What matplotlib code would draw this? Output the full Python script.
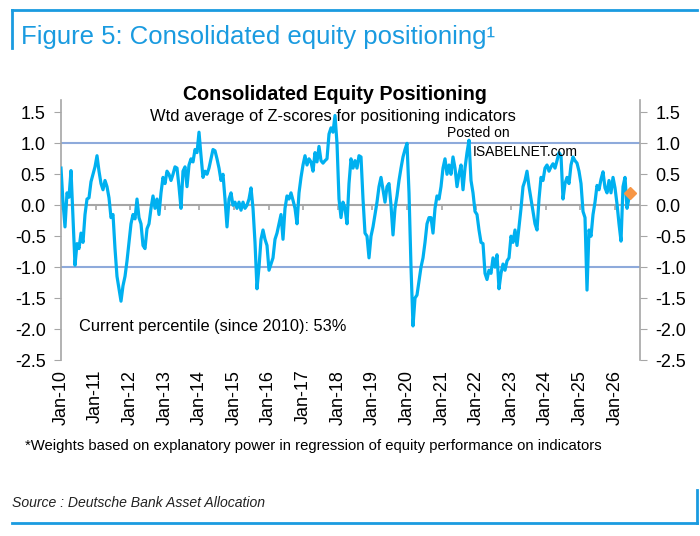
import matplotlib.pyplot as plt
import matplotlib.dates as mdates
from matplotlib.lines import Line2D
import pandas as pd

# consolidated equity positioning (roughly every 3 weeks)
values_2010_12 = [0.6, 0.05, -0.35, 0.2, 0.13, 0.56, -0.2, -0.97, -0.62, -0.7, -0.45, -0.6,
                  -0.15, 0.1, 0.12, 0.38, 0.5, 0.62, 0.8, 0.55, 0.35, 0.25, 0.4, 0.3,
                  0.12, -0.2, -0.15, -0.7, -1.15, -1.35, -1.55, -1.3, -1.15, -0.9, -0.6, -0.3,
                  -0.15, -0.22, 0.1, -0.2, -0.3, -0.65, -0.7, -0.38, -0.3, -0.05, 0.15]
values_2012_15 = [-0.05, 0.1, -0.15, 0.2, 0.45, 0.35, 0.55, 0.5, 0.4, 0.5, 0.62, 0.6,
                  0.3, -0.05, 0.55, 0.62, 0.3, 0.65, 0.75, 0.7, 0.9, 0.85, 1.18, 0.8,
                  0.45, 0.55, 0.5, 0.6, 0.75, 0.9, 0.88, 0.75, 0.6, 0.4, 0.5, 0.1,
                  -0.35, 0.1, 0.2, 0.0, 0.05, -0.05, 0.05, -0.08, 0.05, -0.05, 0.0]
values_2015_18 = [0.1, 0.28, -0.05, -0.6, -1.35, -1.0, -0.55, -0.4, -0.55, -0.65, -1.05, -0.95,
                  -0.85, -0.55, -0.45, -0.3, -0.15, -0.55, -0.05, 0.15, 0.1, 0.2, 0.08, -0.05,
                  -0.3, 0.2, 0.45, 0.65, 0.8, 0.65, 0.75, 0.7, 0.55, 0.85, 0.7, 0.95,
                  0.72, 0.68, 0.72, 0.75, 1.15, 1.25, 1.18, 1.45, 1.0, 0.1, -0.2, 0.05]
values_2018_20 = [-0.05, -0.3, 0.35, 0.75, 0.6, 0.72, 0.6, 0.8, 0.78, 0.1, -0.45, -0.5,
                  -0.85, -0.5, -0.35, -0.15, 0.05, 0.3, 0.45, 0.25, 0.05, 0.3, 0.35, 0.0,
                  -0.48, -0.05, 0.15, 0.4, 0.6, 0.78, 0.9, 1.0, 0.2, -1.0, -1.95, -1.5,
                  -1.45, -1.22, -1.0, -0.85, -0.6, -0.3, -0.2, -0.2, -0.45, -0.05, 0.15]
values_2020_23 = [0.1, 0.3, 0.6, 0.75, 0.5, 0.65, 0.5, 0.78, 0.6, 0.3, 0.5, 0.65,
                  0.25, 0.6, 0.85, 1.05, 0.4, 0.2, -0.1, -0.15, -0.4, -0.6, -0.62, -1.1,
                  -1.2, -1.05, -1.1, -0.85, -1.0, -0.8, -1.35, -1.1, -0.95, -1.05, -0.9, -0.85,
                  -0.5, -0.6, -0.4, -0.65, -0.35, -0.05, 0.3, 0.4, 0.55, 0.3, 0.1, -0.1]
values_2023_26 = [-0.3, -0.4, 0.1, 0.45, 0.4, 0.6, 0.65, 0.55, 0.62, 0.67, 0.6, 0.72,
                  0.85, 0.8, 0.1, 0.35, 0.45, 0.35, 0.65, 0.78, 0.72, 0.68, 0.55, 0.35,
                  -0.1, -0.2, -1.37, -0.4, -0.5, -0.15, 0.05, 0.32, 0.25, 0.42, 0.54, 0.28,
                  0.2, 0.4, 0.2, 0.45, 0.28, 0.02, -0.3, -0.58, 0.3, 0.45, -0.05, 0.12]

values = (values_2010_12 + values_2012_15 + values_2015_18
          + values_2018_20 + values_2020_23 + values_2023_26)
dates = pd.date_range("2010-01-01", "2026-05-31", periods=len(values))

current_date = pd.Timestamp("2026-06-10")
current_value = 0.2

yticks = [1.5, 1.0, 0.5, 0.0, -0.5, -1.0, -1.5, -2.0, -2.5]
years = pd.date_range("2010-01-01", "2026-01-01", freq="YS")

plt.rcParams["font.family"] = ["Liberation Sans", "DejaVu Sans"]

fig = plt.figure(figsize=(7, 5.36), dpi=100)
ax = fig.add_axes([61 / 700, 1 - 360 / 536, 579 / 700, 260 / 536])

ax.axhline(1.0, color="#8eaadb", lw=1.5, zorder=1)
ax.axhline(-1.0, color="#8eaadb", lw=1.5, zorder=1)
ax.axhline(0.0, color="#a6a6a6", lw=1.5, zorder=1)
ax.vlines(years, -0.07, 0, color="#a6a6a6", lw=1.2, zorder=1)

ax.plot(dates, values, color="#00b0f0", lw=2.3, zorder=3)
ax.plot([current_date], [current_value], marker="D", ms=6, color="#f79646", ls="none", zorder=4)

ax.set_xlim(pd.Timestamp("2010-01-01"), pd.Timestamp("2026-09-24"))
ax.set_ylim(-2.5, 1.7)

ax.set_yticks(yticks)
ax.set_yticklabels([f"{v:.1f}" for v in yticks])
ax.tick_params(axis="y", which="both", left=True, right=True, labelleft=True, labelright=True,
               direction="out", length=5, color="#a6a6a6", labelsize=13, pad=6)

ax.set_xticks(years)
ax.xaxis.set_major_formatter(mdates.DateFormatter("%b-%y"))
ax.tick_params(axis="x", length=0, labelsize=13, pad=7, labelrotation=90)

for side in ["top", "bottom"]:
    ax.spines[side].set_visible(False)
for side in ["left", "right"]:
    ax.spines[side].set_color("#a6a6a6")
    ax.spines[side].set_linewidth(1.2)

fig.text(335 / 700, 1 - 95 / 536, "Consolidated Equity Positioning", ha="center", va="center",
         fontsize=14.2, fontweight="bold")
fig.text(333 / 700, 1 - 116 / 536, "Wtd average of Z-scores for positioning indicators",
         ha="center", va="center", fontsize=11.9)
fig.text(79 / 700, 1 - 326 / 536, "Current percentile (since 2010): 53%", ha="left", va="center",
         fontsize=11.8)
fig.text(478 / 700, 1 - 133 / 536, "Posted on", ha="center", va="center", fontsize=10)
fig.text(473 / 700, 1 - 152 / 536, "ISABELNET.com", ha="left", va="center", fontsize=10)

fig.text(25 / 700, 1 - 446 / 536,
         "*Weights based on explanatory power in regression of equity performance on indicators",
         ha="left", va="center", fontsize=10.7)
fig.text(12 / 700, 1 - 503 / 536, "Source : Deutsche Bank Asset Allocation", ha="left", va="center",
         fontsize=10.1, style="italic", color="#222222")
fig.text(21 / 700, 1 - 37 / 536, "Figure 5: Consolidated equity positioning\u00b9", ha="left",
         va="center", fontsize=18.5, color="#1a9be0")

blue = "#1a9be0"
fig.add_artist(Line2D([12 / 700, 697 / 700], [1 - 10 / 536, 1 - 10 / 536], color=blue, lw=2,
                      transform=fig.transFigure))
fig.add_artist(Line2D([12 / 700, 12 / 700], [1 - 10 / 536, 1 - 48 / 536], color=blue, lw=2,
                      transform=fig.transFigure))
fig.add_artist(Line2D([12 / 700, 697 / 700], [1 - 523 / 536, 1 - 523 / 536], color=blue, lw=2,
                      transform=fig.transFigure))
fig.add_artist(Line2D([697 / 700, 697 / 700], [1 - 490 / 536, 1 - 523 / 536], color=blue, lw=2,
                      transform=fig.transFigure))

fig.savefig("out.png", dpi=100)
